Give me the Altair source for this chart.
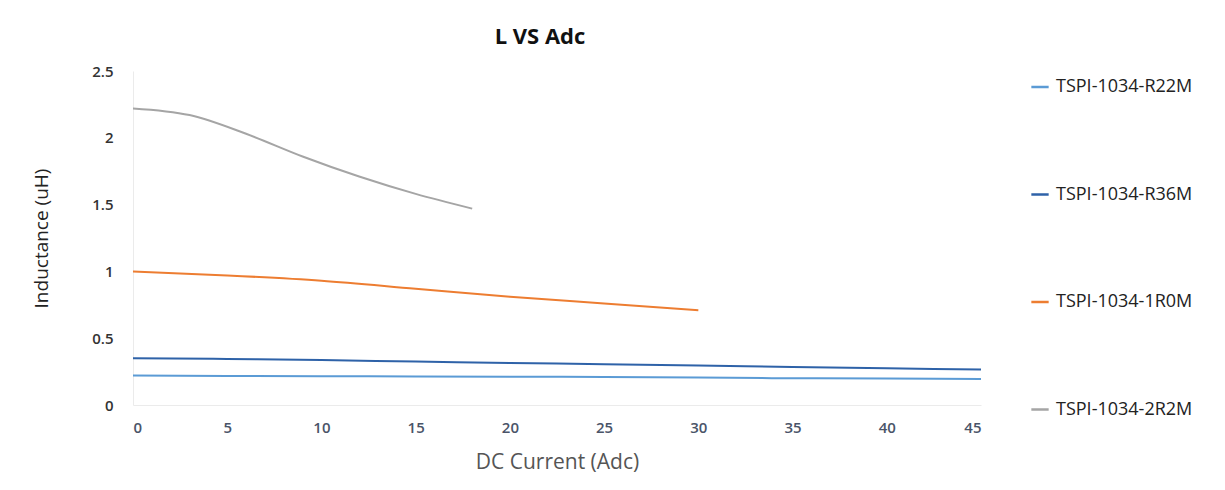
import altair as alt
import pandas as pd

series_names = ["TSPI-1034-R22M", "TSPI-1034-R36M", "TSPI-1034-1R0M", "TSPI-1034-2R2M"]
series_colors = ["#5B9BD5", "#2E62A8", "#ED7D31", "#A5A5A5"]

r22m_x = [0, 5, 10, 15, 20, 25, 30, 35, 40, 45]
r22m_y = [0.22, 0.218, 0.216, 0.214, 0.212, 0.21, 0.205, 0.2, 0.198, 0.195]

r36m_x = [0, 5, 10, 15, 20, 25, 30, 35, 40, 45]
r36m_y = [0.35, 0.345, 0.337, 0.325, 0.315, 0.305, 0.295, 0.285, 0.275, 0.265]

r1r0m_x = [0, 5, 10, 15, 20, 25, 30]
r1r0m_y = [1.0, 0.97, 0.93, 0.87, 0.81, 0.76, 0.71]

r2r2m_x = [0, 3, 6, 9, 12, 15, 18]
r2r2m_y = [2.22, 2.17, 2.03, 1.86, 1.71, 1.58, 1.47]

x_ticks = [0, 5, 10, 15, 20, 25, 30, 35, 40, 45]
y_ticks = [0, 0.5, 1, 1.5, 2, 2.5]

rows = []
for name, xs, ys in zip(series_names,
                        [r22m_x, r36m_x, r1r0m_x, r2r2m_x],
                        [r22m_y, r36m_y, r1r0m_y, r2r2m_y]):
    for x, y in zip(xs, ys):
        rows.append({"series": name, "current": x, "inductance": y})
df = pd.DataFrame(rows)

font = "Open Sans"

chart = alt.Chart(df).mark_line(strokeWidth=2, interpolate="monotone").encode(
    x=alt.X("current:Q",
            scale=alt.Scale(domain=[0, 45], nice=False, zero=True),
            axis=alt.Axis(title="DC Current (Adc)", values=x_ticks, grid=False, ticks=False,
                          domainColor="#EBEBEB", labelFont=font, labelFontSize=15,
                          labelFontWeight=600,
                          labelColor="#4A5468", labelPadding=15, titleFont=font,
                          titleFontSize=21, titleFontWeight="normal", titleColor="#555555",
                          titlePadding=16)),
    y=alt.Y("inductance:Q",
            scale=alt.Scale(domain=[0, 2.5], nice=False),
            axis=alt.Axis(title="Inductance (uH)", values=y_ticks, grid=False, ticks=False,
                          format="~g",
                          domainColor="#EBEBEB", labelFont=font, labelFontSize=15,
                          labelFontWeight=600,
                          labelColor="#333333", labelPadding=20, titleFont=font,
                          titleFontSize=19, titleFontWeight="normal", titleColor="#222222",
                          titlePadding=40)),
    color=alt.Color("series:N",
                    scale=alt.Scale(domain=series_names, range=series_colors),
                    sort=series_names,
                    legend=alt.Legend(title=None, orient="none", legendX=897, legendY=6,
                                      symbolType="stroke", symbolStrokeWidth=2.5, symbolSize=300,
                                      labelFont=font, labelFontSize=18, labelColor="#222222",
                                      rowPadding=88.5, labelLimit=300, labelOffset=6)),
).properties(
    width=848,
    height=334,
    background="white",
    title=alt.TitleParams("L VS Adc", font=font, fontSize=22, fontWeight="bold",
                          color="#111111", anchor="middle", offset=15, dx=-17),
    padding={"left": 24, "top": 18, "right": 0, "bottom": 8},
).configure_view(stroke=None)

chart.save("out.html", embed_options={"renderer": "svg", "actions": False})
